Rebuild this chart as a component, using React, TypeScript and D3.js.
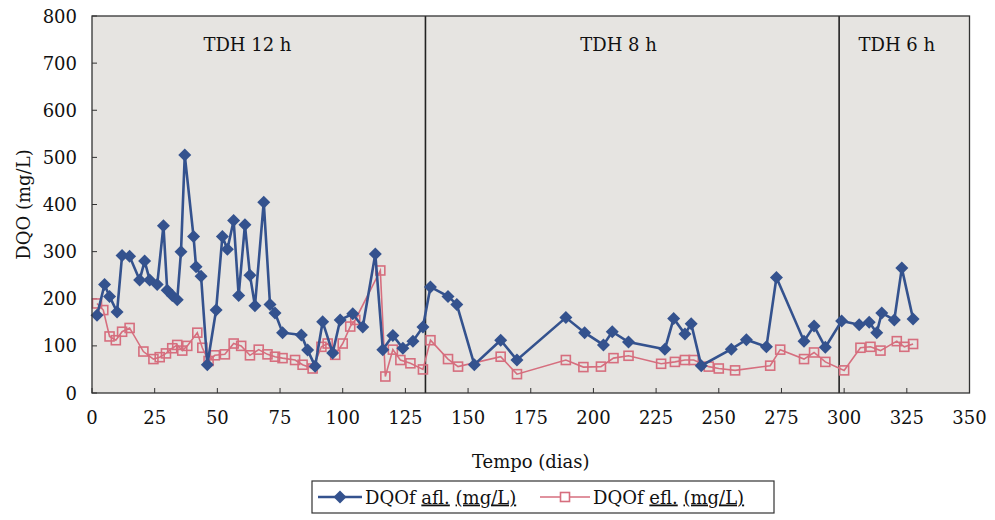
import React from "react";
import * as d3 from "d3";

// Filtered COD of the influent (afluente) over time
const aflDays = [2, 5, 7, 10, 12, 15, 19, 21, 23, 26, 28.5, 30, 32, 34, 35.5, 37, 40.5, 41.5, 43.5, 46, 49.5, 52, 54, 56.5, 58.5, 61, 63, 65, 68.5, 71, 73, 76, 83.5, 86, 89, 92, 96, 99, 104, 108, 113, 116, 120, 124, 128, 132, 135, 142, 145.5, 152.5, 163, 169.5, 189, 196.5, 204, 207.5, 214, 228.5, 232, 236.5, 239, 243, 255, 261, 269, 273, 284, 288, 292.5, 299, 306, 310, 313, 315, 320, 323, 327.5];
const aflValues = [165, 230, 205, 172, 292, 290, 240, 280, 240, 230, 355, 218, 207, 198, 300, 505, 332, 268, 248, 60, 176, 332, 305, 366, 207, 357, 250, 185, 405, 188, 170, 128, 123, 91, 57, 151, 85, 155, 168, 140, 295, 92, 122, 95, 110, 140, 225, 205, 188, 60, 112, 70, 160, 128, 102, 130, 108, 93, 158, 125, 147, 58, 93, 113, 98, 245, 110, 142, 97, 153, 145, 150, 128, 170, 155, 265, 157];

// Filtered COD of the effluent (efluente) over time
const eflDays = [2, 4.5, 7, 9.5, 12, 15, 20.5, 24.5, 27, 29.5, 32, 34, 36, 38, 42, 44, 46.5, 49, 53, 56.5, 59.5, 63, 66.5, 70, 73, 76, 81, 84, 88, 91.5, 94, 97, 100, 103, 105, 115, 117, 120, 123, 127, 132, 135, 142, 146, 163, 169.5, 189, 196, 203, 208, 214, 227, 232.5, 236.5, 240, 246, 250, 256.5, 270.5, 274.5, 284, 288, 292.5, 300, 306.5, 310.5, 314.5, 321, 324, 327.5];
const eflValues = [190, 176, 120, 112, 130, 138, 88, 72, 76, 84, 95, 102, 90, 100, 128, 96, 68, 80, 82, 105, 100, 80, 92, 82, 77, 74, 70, 60, 52, 98, 105, 81, 105, 141, 155, 260, 35, 92, 70, 63, 50, 112, 72, 56, 77, 40, 70, 55, 56, 74, 79, 62, 66, 70, 70, 56, 52, 48, 58, 92, 72, 86, 66, 48, 96, 98, 90, 110, 98, 104];

// Hydraulic retention time phases
const phaseBreaks = [133, 298];
const phaseLabels = ["TDH 12 h", "TDH 8 h", "TDH 6 h"];
const phaseLabelDays = [62, 210, 321];

const xTicks = [0, 25, 50, 75, 100, 125, 150, 175, 200, 225, 250, 275, 300, 325, 350];
const yTicks = [0, 100, 200, 300, 400, 500, 600, 700, 800];

const W = 995;
const H = 520;
const M = { left: 92, right: 969.5, top: 16, bottom: 393 };

const BLUE = "#34528e";
const PINK = "#d66e7e";
const FONT = "DejaVu Serif";

export default function App() {
  const x = d3.scaleLinear().domain([0, 350]).range([M.left, M.right]);
  const y = d3.scaleLinear().domain([0, 800]).range([M.bottom, M.top]);

  const afl = aflDays.map((d, i) => [d, aflValues[i]] as [number, number]);
  const efl = eflDays.map((d, i) => [d, eflValues[i]] as [number, number]);

  const line = d3
    .line<[number, number]>()
    .x((d) => x(d[0]))
    .y((d) => y(d[1]));

  const diamond = (cx: number, cy: number, r: number) =>
    `M${cx},${cy - r}L${cx + r},${cy}L${cx},${cy + r}L${cx - r},${cy}Z`;

  const legendY = 497;
  const tp = { fontFamily: FONT, fontSize: 18, fill: "#111" };

  return (
    <div style={{ position: "absolute", left: 0, top: 0 }}>
      <svg width={W} height={H} style={{ display: "block", background: "#fff" }}>
        {/* plot area */}
        <rect x={M.left} y={M.top} width={M.right - M.left} height={M.bottom - M.top} fill="#e6e4e1" />

        {/* phase separators */}
        {phaseBreaks.map((d) => (
          <line key={d} x1={x(d)} x2={x(d)} y1={M.top} y2={M.bottom} stroke="#222" strokeWidth={1.6} />
        ))}
        {phaseLabels.map((t, i) => (
          <text key={t} x={x(phaseLabelDays[i])} y={51} textAnchor="middle" {...tp}>
            {t}
          </text>
        ))}

        {/* ticks */}
        {xTicks.map((t) => (
          <g key={"x" + t}>
            <line x1={x(t)} x2={x(t)} y1={M.bottom} y2={M.bottom - 5} stroke="#333" strokeWidth={1} />
            <text x={x(t)} y={424} textAnchor="middle" {...tp}>
              {t}
            </text>
          </g>
        ))}
        {yTicks.map((t) => (
          <g key={"y" + t}>
            <line x1={M.left} x2={M.left + 5} y1={y(t)} y2={y(t)} stroke="#333" strokeWidth={1} />
            <text x={77} y={y(t) + 6.5} textAnchor="end" {...tp}>
              {t}
            </text>
          </g>
        ))}

        {/* effluent series */}
        <path d={line(efl) ?? ""} fill="none" stroke={PINK} strokeWidth={1.6} />
        {efl.map((d, i) => (
          <rect
            key={"e" + i}
            x={x(d[0]) - 4.5}
            y={y(d[1]) - 4.5}
            width={9}
            height={9}
            fill="none"
            stroke={PINK}
            strokeWidth={1.6}
          />
        ))}

        {/* influent series */}
        <path d={line(afl) ?? ""} fill="none" stroke={BLUE} strokeWidth={2.6} />
        {afl.map((d, i) => (
          <path key={"a" + i} d={diamond(x(d[0]), y(d[1]), 6.5)} fill={BLUE} />
        ))}

        {/* frame */}
        <rect
          x={M.left}
          y={M.top}
          width={M.right - M.left}
          height={M.bottom - M.top}
          fill="none"
          stroke="#333"
          strokeWidth={1.3}
        />

        {/* axis titles */}
        <text x={(M.left + M.right) / 2} y={468} textAnchor="middle" {...tp}>
          Tempo (dias)
        </text>
        <text transform={`translate(30,${(M.top + M.bottom) / 2}) rotate(-90)`} textAnchor="middle" {...tp}>
          DQO (mg/L)
        </text>

        {/* legend */}
        <rect x={312} y={481} width={462} height={32} fill="#fff" stroke="#333" strokeWidth={1.2} />
        <line x1={318} x2={362} y1={legendY} y2={legendY} stroke={BLUE} strokeWidth={2.6} />
        <path d={diamond(340, legendY, 6.5)} fill={BLUE} />
        <text x={365} y={legendY + 6.5} {...tp}>
          DQOf <tspan textDecoration="underline">afl.</tspan>{" "}
          <tspan textDecoration="underline">(mg/L)</tspan>
        </text>
        <line x1={540} x2={590} y1={legendY} y2={legendY} stroke={PINK} strokeWidth={1.6} />
        <rect x={560.5} y={legendY - 4.5} width={9} height={9} fill="#fff" stroke={PINK} strokeWidth={1.6} />
        <text x={593} y={legendY + 6.5} {...tp}>
          DQOf <tspan textDecoration="underline">efl.</tspan>{" "}
          <tspan textDecoration="underline">(mg/L)</tspan>
        </text>
      </svg>
    </div>
  );
}
